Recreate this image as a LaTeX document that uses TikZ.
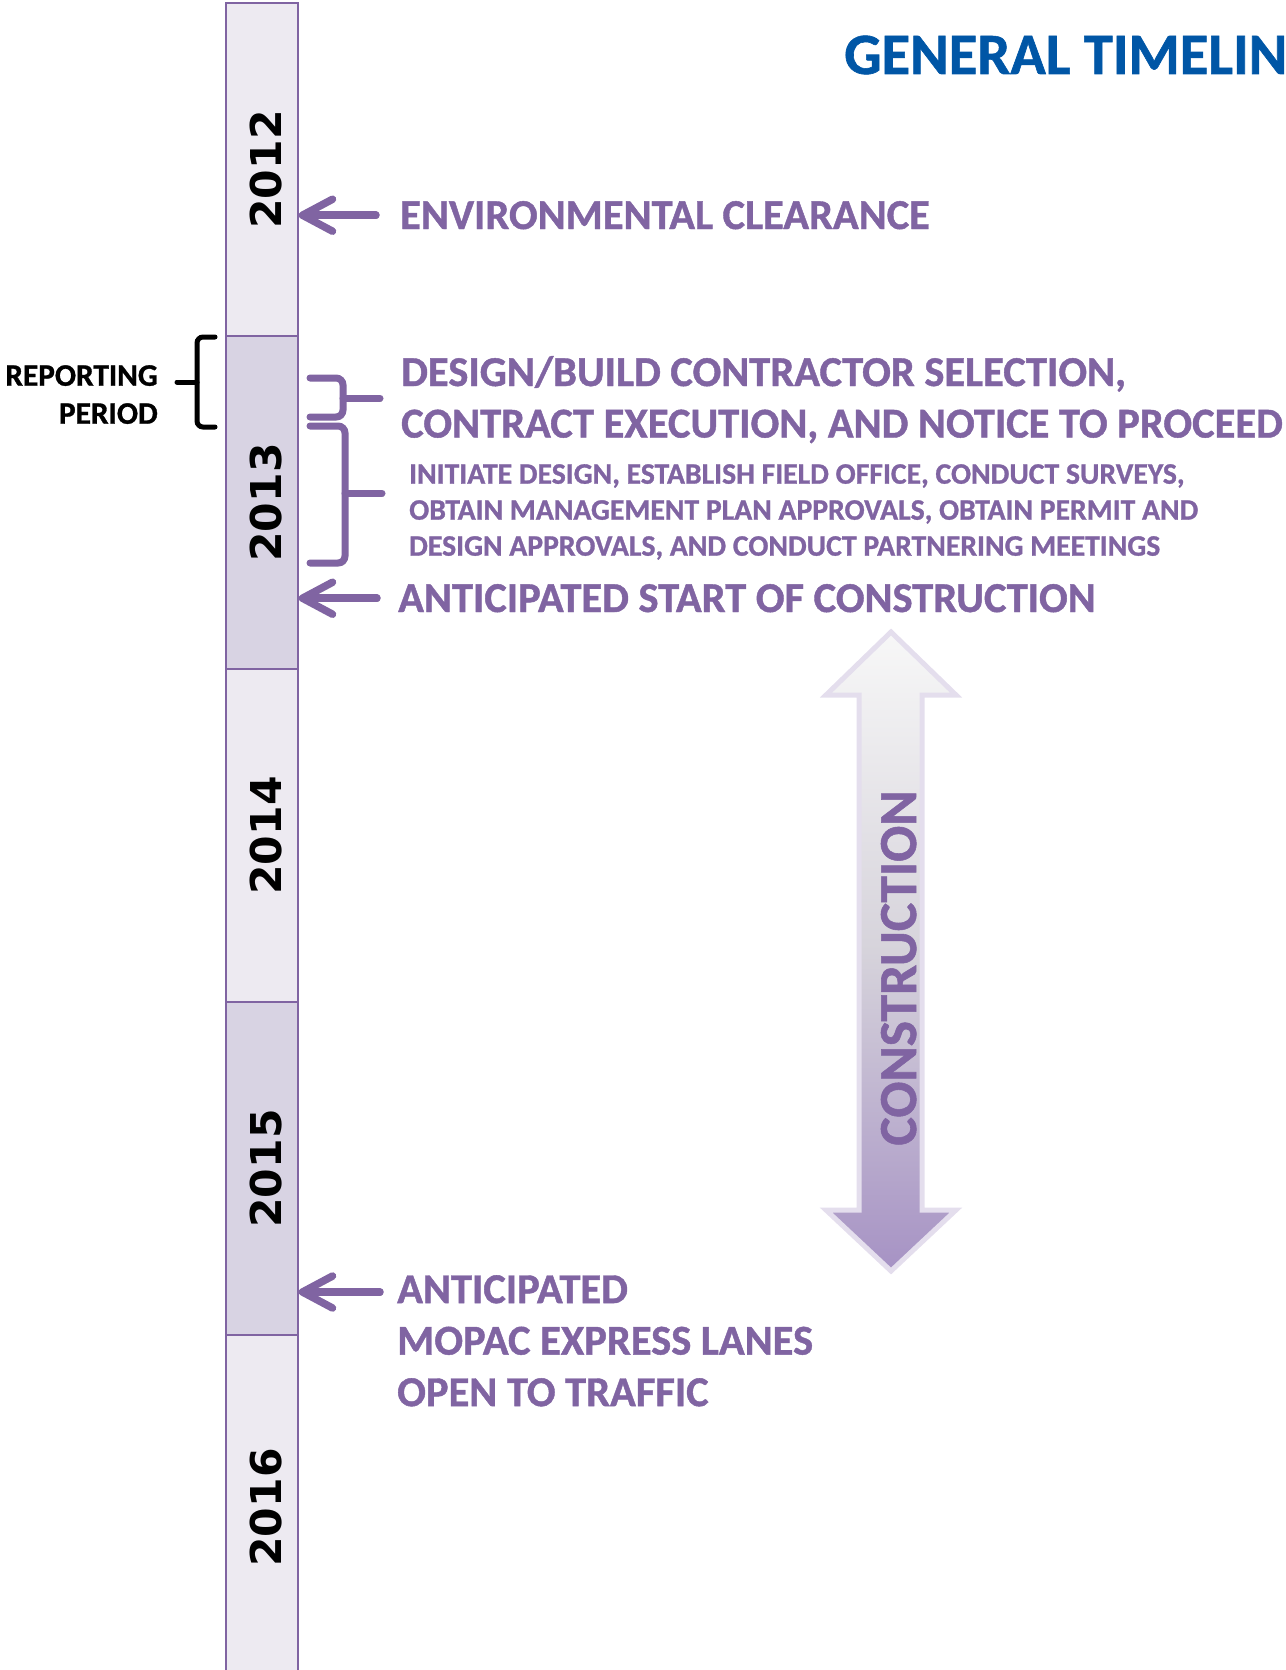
\documentclass[tikz,border=0pt]{standalone}
\usepackage{fontspec}
\setmainfont{Carlito}[BoldFeatures={FakeBold=1}]
\newfontfamily\yearfont{DejaVu Sans}
\usepackage{tikz}
\usetikzlibrary{arrows.meta}
\definecolor{mpurple}{HTML}{8064A2}
\definecolor{segpale}{RGB}{237,234,241}
\definecolor{segdark}{RGB}{216,211,227}
\definecolor{titleblue}{RGB}{0,86,166}
\definecolor{rim}{RGB}{228,222,237}
\definecolor{spanmid}{RGB}{214,211,219}
\definecolor{spanlow}{RGB}{166,146,196}
\tikzstyle{seg}=[rectangle,draw=mpurple,line width=1.5pt,minimum width=72pt,minimum height=333pt,inner sep=0pt]
\tikzstyle{year}=[rotate=90,anchor=base,inner sep=0pt,font=\yearfont\bfseries\fontsize{42.5}{42.5}\selectfont]
\tikzstyle{note}=[inner sep=0pt,text=mpurple,align=left,font=\bfseries\fontsize{42.5}{51.5}\selectfont]
\tikzstyle{small}=[inner sep=0pt,text=mpurple,align=left,font=\bfseries\fontsize{29.7}{36}\selectfont]
\tikzstyle{shade}=[preaction={draw=black,opacity=.22,transform canvas={shift={(2pt,-3pt)}}}]
\tikzstyle{pointer}=[draw=mpurple,line width=7.5pt,line cap=round,shade,-{Straight Barb[length=30pt,width=32pt,round]}]
\tikzstyle{brace}=[draw=mpurple,line width=7pt,line cap=round,rounded corners=7pt,shade]

\begin{document}
\begin{tikzpicture}[x=1pt,y=-1pt]
  \useasboundingbox (0,0) rectangle (1285,1670);
  % the year bar
  \node[seg,fill=segpale] (s12) at (262,169.5) {};
  \node[seg,fill=segdark] (s13) at (262,502.5) {};
  \node[seg,fill=segpale] (s14) at (262,835.5) {};
  \node[seg,fill=segdark] (s15) at (262,1168.5) {};
  \node[seg,fill=segpale,minimum height=345pt] (s16) at (262,1507.5) {};
  \node[year] (t12) at ([xshift=19pt]s12.center) {2012};
  \node[year] (t13) at ([xshift=19pt]s13.center) {2013};
  \node[year] (t14) at ([xshift=19pt]s14.center) {2014};
  \node[year] (t15) at ([xshift=19pt]s15.center) {2015};
  \node[year] (t16) at ([xshift=19pt]s16.center) {2016};

  \node[anchor=base west,inner sep=0pt,text=titleblue,font=\bfseries\fontsize{58.6}{58.6}\selectfont] (title) at (844,74) {GENERAL TIMELIN};

  % milestones
  \node[note,anchor=base west] (env) at (400,229) {ENVIRONMENTAL CLEARANCE};
  \node[note,anchor=north west] (dbc) at (401,356) {DESIGN/BUILD CONTRACTOR SELECTION,\\CONTRACT EXECUTION, AND NOTICE TO PROCEED};
  \node[small,anchor=north west] (init) at (409,464) {INITIATE DESIGN, ESTABLISH FIELD OFFICE, CONDUCT SURVEYS,\\OBTAIN MANAGEMENT PLAN APPROVALS, OBTAIN PERMIT AND\\DESIGN APPROVALS, AND CONDUCT PARTNERING MEETINGS};
  \node[note,anchor=base west] (start) at (398,612) {ANTICIPATED START OF CONSTRUCTION};
  \node[note,anchor=north west] (open) at (397,1275) {ANTICIPATED\\MOPAC EXPRESS LANES\\OPEN TO TRAFFIC};

  \draw[pointer] ([xshift=-24pt]env.west) -- (env.west -| s12.east);
  \draw[pointer] ([xshift=-21pt]start.west) -- (start.west -| s13.east);
  \draw[pointer] ([xshift=-17pt,yshift=-17pt]open.north west) -- ([yshift=-17pt]open.north west -| s15.east);

  % braces
  \draw[brace] (310,378) -| (343,398) |- (310,417);
  \draw[brace] (343,398) -- (380,398);
  \draw[brace] (310,426) -| (345,493) |- (310,563);
  \draw[brace] (345,493) -- (382,493);
  \draw[line width=5pt,line cap=round,rounded corners=6pt] (215,337) -| (197,382) |- (215,427);
  \draw[line width=5pt,line cap=round] (197,382) -- (177,382);
  \node[anchor=north east,inner sep=0pt,align=right,font=\bfseries\fontsize{31.3}{38}\selectfont] (rep) at (158,365) {REPORTING\\PERIOD};

  % construction span
  \draw[draw=rim,line width=5pt,top color=white!97!black,bottom color=spanlow,middle color=spanmid]
    (891,632) -- (956,695) -- (922,695) -- (922,1210) -- (956,1210) -- (891,1271)
    -- (826,1210) -- (859,1210) -- (859,695) -- (826,695) -- cycle;
  \node[rotate=90,anchor=base,inner sep=0pt,text=mpurple,font=\bfseries\fontsize{53.5}{53.5}\selectfont] (cons) at (916,968) {CONSTRUCTION};
\end{tikzpicture}
\end{document}
